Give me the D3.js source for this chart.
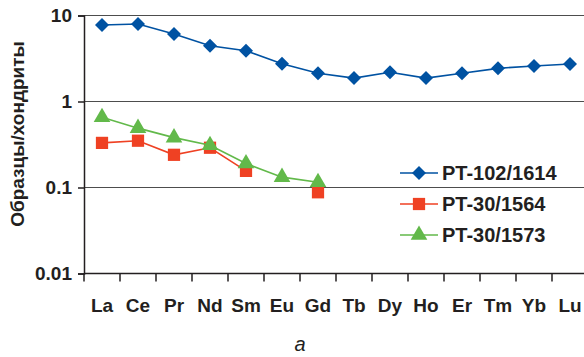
<!DOCTYPE html>
<html>
<head>
<meta charset="utf-8">
<script src="https://cdn.jsdelivr.net/npm/d3@7"></script>
<style>
  body { margin: 0; background: #fff; }
  svg text { font-family: "Liberation Sans", Arial, sans-serif; fill: #231f20; }
</style>
</head>
<body>
<div id="chart"></div>
<script>
// REE elements (x categories)
const elements = ["La", "Ce", "Pr", "Nd", "Sm", "Eu", "Gd", "Tb", "Dy", "Ho", "Er", "Tm", "Yb", "Lu"];

// sample / chondrite ratios, null = not measured
const pt102_1614 = [7.75, 7.95, 6.1, 4.45, 3.9, 2.75, 2.13, 1.87, 2.19, 1.87, 2.13, 2.43, 2.59, 2.73];
const pt30_1564 = [0.33, 0.35, 0.24, 0.29, 0.156, null, 0.088, null, null, null, null, null, null, null];
const pt30_1573 = [0.655, 0.49, 0.38, 0.31, 0.19, 0.132, 0.115, null, null, null, null, null, null, null];

const seriesNames = ["PT-102/1614", "PT-30/1564", "PT-30/1573"];
const yTicks = [0.01, 0.1, 1, 10];

const margin = { top: 15.5, left: 84 };
const width = 504, height = 258;

const series = [
  { name: seriesNames[0], values: pt102_1614, color: "#0052a2", shape: "diamond" },
  { name: seriesNames[1], values: pt30_1564, color: "#ef4123", shape: "square" },
  { name: seriesNames[2], values: pt30_1573, color: "#62b94a", shape: "triangle" }
];

const svg = d3.select("#chart").append("svg")
  .attr("width", 584).attr("height", 357);

const g = svg.append("g").attr("transform", `translate(${margin.left},${margin.top})`);

const x = d3.scaleBand().domain(elements).range([0, width]);
const y = d3.scaleLog().domain([0.01, 10]).range([height, 0]);

// gridlines
g.selectAll(".grid").data(yTicks.slice(1)).enter().append("line")
  .attr("x1", 0).attr("x2", width)
  .attr("y1", d => y(d)).attr("y2", d => y(d))
  .attr("stroke", "#4d4d4d").attr("stroke-width", 1.2);

// y axis
const yAxis = g.append("g").call(d3.axisLeft(y).tickValues(yTicks).tickFormat(d => String(d)).tickSize(6).tickPadding(6));
yAxis.select(".domain").attr("stroke", "#231f20").attr("stroke-width", 1.5);
yAxis.selectAll(".tick line").attr("stroke", "#231f20").attr("stroke-width", 1.5);
yAxis.selectAll("text").attr("font-size", 19).attr("font-weight", "bold").attr("fill", "#231f20")
  .attr("font-family", "Liberation Sans, Arial, sans-serif");

// x axis: ticks at band boundaries
const xg = g.append("g").attr("transform", `translate(0,${height})`);
xg.append("line").attr("x1", 0).attr("x2", width).attr("stroke", "#231f20").attr("stroke-width", 1.5);
xg.selectAll(".xt").data(elements).enter().append("line")
  .attr("x1", d => x(d)).attr("x2", d => x(d))
  .attr("y1", 0).attr("y2", 8)
  .attr("stroke", "#231f20").attr("stroke-width", 1.5);
xg.selectAll(".xl").data(elements).enter().append("text")
  .attr("x", d => x(d) + x.bandwidth() / 2)
  .attr("y", 38)
  .attr("text-anchor", "middle")
  .attr("font-size", 19).attr("font-weight", "bold")
  .text(d => d);

// y label
svg.append("text")
  .attr("transform", "translate(24,134) rotate(-90)")
  .attr("text-anchor", "middle")
  .attr("font-size", 19).attr("font-weight", "bold")
  .text("Образцы/хондриты");

// caption
svg.append("text")
  .attr("x", 300).attr("y", 351)
  .attr("text-anchor", "middle")
  .attr("font-size", 20).attr("font-style", "italic").attr("fill", "#444")
  .text("a");

const symbolFor = {
  diamond: d3.symbol().type(d3.symbolDiamond2).size(125),
  square: d3.symbol().type(d3.symbolSquare).size(150),
  triangle: d3.symbol().type(d3.symbolTriangle).size(120)
};

const line = d3.line()
  .defined(d => d.v != null)
  .x(d => x(d.el) + x.bandwidth() / 2)
  .y(d => y(d.v));

series.forEach(s => {
  const pts = elements.map((el, i) => ({ el: el, v: s.values[i] }));
  g.append("path").datum(pts)
    .attr("d", line)
    .attr("fill", "none")
    .attr("stroke", s.color)
    .attr("stroke-width", 1.6);
  g.selectAll(null).data(pts.filter(d => d.v != null)).enter().append("path")
    .attr("transform", d => `translate(${x(d.el) + x.bandwidth() / 2},${y(d.v)})`)
    .attr("d", symbolFor[s.shape])
    .attr("fill", s.color);
});

// legend
const legend = svg.append("g").attr("transform", "translate(400,173)");
series.forEach((s, i) => {
  const row = legend.append("g").attr("transform", `translate(0,${i * 31})`);
  row.append("line").attr("x1", 0).attr("x2", 38).attr("stroke", s.color).attr("stroke-width", 1.6);
  row.append("path").attr("transform", "translate(19,0)").attr("d", symbolFor[s.shape]).attr("fill", s.color);
  row.append("text").attr("x", 42).attr("y", 7)
    .attr("font-size", 20).attr("font-weight", "bold")
    .text(s.name);
});
</script>
</body>
</html>
